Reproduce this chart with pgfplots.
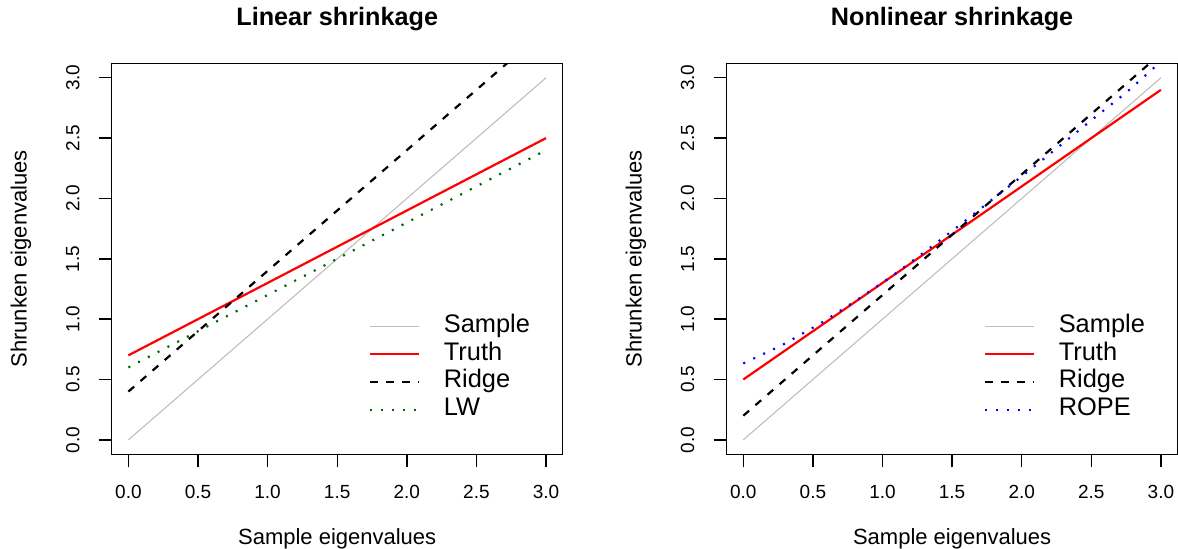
\documentclass[border=0pt]{standalone}
\usepackage{pgfplots}
\pgfplotsset{compat=1.18}
\usepackage{fontspec}
\setmainfont{Liberation Sans}
\definecolor{rgray}{RGB}{190,190,190}
\definecolor{rgreen}{RGB}{0,100,0}
\definecolor{rblue}{RGB}{0,0,255}
\definecolor{rred}{RGB}{255,0,0}

\pgfplotsset{
 rstyle/.style={
  scale only axis, width=225.5pt, height=195.5pt,
  xmin=-0.12, xmax=3.12, ymin=-0.12, ymax=3.12,
  xtick={0,0.5,1,1.5,2,2.5,3}, ytick={0,0.5,1,1.5,2,2.5,3},
  tick align=outside, major tick length=6.5pt,
  xtick pos=bottom, ytick pos=left,
  axis line style={line width=0.7pt},
  tick style={line width=0.7pt, black},
  xticklabel style={font=\fontsize{9.5}{11}\selectfont, anchor=center, yshift=-12.2pt},
  yticklabel style={font=\fontsize{9.5}{11}\selectfont, anchor=center, xshift=-12.95pt, rotate=90},
  xticklabel={\pgfmathprintnumber[fixed, fixed zerofill, precision=1, assume math mode=true]{\tick}},
  yticklabel={\pgfmathprintnumber[fixed, fixed zerofill, precision=1, assume math mode=true]{\tick}},
  every axis x label/.style={at={(axis description cs:0.5,0)}, anchor=center, yshift=-42.35pt, font=\fontsize{11}{13}\selectfont},
  every axis y label/.style={at={(axis description cs:0,0.5)}, anchor=center, xshift=-45.35pt, rotate=90, font=\fontsize{11}{13}\selectfont},
  every axis title/.style={at={(axis description cs:0.5,1)}, anchor=center, yshift=22.15pt, font=\fontsize{12.6}{15}\selectfont\bfseries},
  legend style={draw=none, fill=none, at={(axis description cs:0.5705,0.2205)}, anchor=west,
    font=\fontsize{12.7}{14}\selectfont, inner sep=0pt, outer sep=0pt, row sep=1.9pt,
    nodes={inner sep=0pt, text height=9pt, text depth=3pt},
    /tikz/every odd column/.append style={column sep=11.85pt}},
  legend cell align=left,
  legend image code/.code={\draw[#1] (0pt,0pt) -- (24.5pt,0pt);},
  xlabel={Sample eigenvalues}, ylabel={Shrunken eigenvalues},
 },
 samp/.style={rgray, line width=0.55pt},
 tru/.style={rred, line width=1.1pt},
 ridg/.style={black, line width=1.1pt, dash pattern=on 3.8pt off 4.2pt},
 dott/.style={line width=1.1pt, dash pattern=on 1pt off 4.5pt},
}

\begin{document}
\begin{tikzpicture}
\begin{axis}[rstyle, at={(55.85pt,46.85pt)}, anchor=south west, title={Linear shrinkage}]
\addplot[samp] coordinates {(0,0) (3,3)};
\addlegendentry{Sample}
\addplot[tru] coordinates {(0,0.7) (3,2.5)};
\addlegendentry{Truth}
\addplot[ridg] coordinates {(0,0.4) (3,3.4)};
\addlegendentry{Ridge}
\addplot[dott, rgreen] coordinates {(0,0.6) (3,2.4)};
\addlegendentry{LW}
\end{axis}
\begin{axis}[rstyle, at={(363.3pt,46.85pt)}, anchor=south west, title={Nonlinear shrinkage}]
\addplot[samp] coordinates {(0,0) (3,3)};
\addlegendentry{Sample}
\addplot[tru] coordinates {(0,0.5) (3,2.9)};
\addlegendentry{Truth}
\addplot[ridg] coordinates {(0,0.2) (3,3.2)};
\addlegendentry{Ridge}
\addplot[dott, rblue] coordinates {
(0,0.633) (0.284,0.788) (0.555,0.965) (0.813,1.156) (1.069,1.357)
(1.317,1.570) (1.563,1.786) (1.800,2.002) (2.041,2.220) (2.279,2.441)
(2.519,2.665) (2.760,2.886) (3.0,3.135)};
\addlegendentry{ROPE}
\end{axis}
\pgfresetboundingbox
\path (0,0) rectangle (589pt,274pt);
\end{tikzpicture}
\end{document}
